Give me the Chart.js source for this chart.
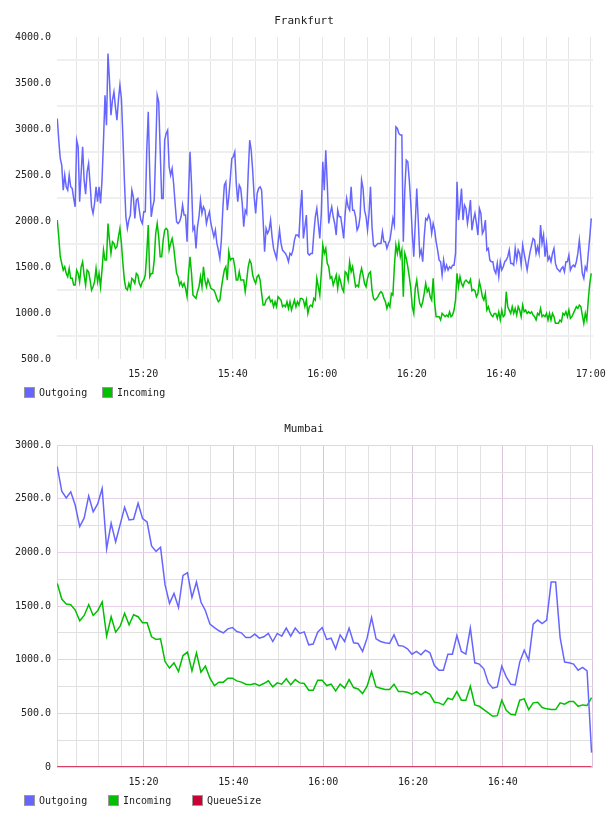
<!DOCTYPE html>
<html lang="en">
<head>
  <meta charset="UTF-8" />
  <title>Frankfurt / Mumbai traffic</title>
  <script src="https://cdn.jsdelivr.net/npm/chart.js"></script>
  <style>
    * { margin: 0; padding: 0; box-sizing: border-box; }
    body {
      width: 608px;
      height: 816px;
      overflow: hidden;
      background: #fff;
      font-family: 'DejaVu Sans Mono', monospace;
    }
    .panel { position: relative; width: 608px; height: 408px; }
    .legend {
      position: absolute;
      left: 24px;
      top: 387px;
      display: flex;
      font-size: 10px;
      line-height: 11px;
      color: #222;
    }
    .legend .item { display: flex; align-items: center; }
    .legend i {
      display: inline-block;
      width: 11px;
      height: 11px;
      border: 1px solid #999;
      margin-right: 4px;
    }
  </style>
</head>
<body>
  <div class="panel">
    <canvas id="fraChart" width="608" height="408"></canvas>
    <div class="legend" id="fraLegend"></div>
  </div>
  <div class="panel">
    <canvas id="mumChart" width="608" height="408"></canvas>
    <div class="legend" id="mumLegend"></div>
  </div>

  <script>
    // x values are minutes after 15:00
    const tickMinutes = [20, 40, 60, 80, 100, 120];
    const fraTickLabels = ['15:20', '15:40', '16:00', '16:20', '16:40', '17:00'];
    const mumTickLabels = ['15:20', '15:40', '16:00', '16:20', '16:40'];

    // Frankfurt: one sample every 20 s starting 15:00:47
    const fraStart = 0.78;
    const fraStep = 1 / 3;
    const fraOut = [
      3116, 2880, 2681, 2608, 2337, 2500, 2373, 2337, 2500, 2373, 2355, 2246, 2155, 2880, 2808, 2210, 2518, 2808, 2445, 2293,
      2536, 2627, 2409, 2155, 2083, 2192, 2373, 2210, 2373, 2192, 2445, 2880, 3369, 3043, 3822, 3532, 3152, 3315, 3405, 3242,
      3097, 3315, 3478, 3333, 2916, 2445, 2047, 1920, 2011, 2065, 2337, 2264, 2029, 2228, 2246, 2119, 2011, 1974, 2101, 2101,
      2771, 3188, 2518, 2047, 2155, 2228, 2771, 3369, 3297, 2771, 2246, 2246, 2880, 2953, 2989, 2590, 2500, 2572, 2409, 2192,
      1993, 1974, 1993, 2047, 2174, 2065, 2065, 1775, 2300, 2753, 2409,
      1902, 1938, 1703, 1938, 2047, 2228, 2083, 2155, 2119, 1974, 2047, 2101, 1974, 1902, 1829, 1902, 1757, 1685, 1594, 1793,
      2137, 2391, 2427, 2119, 2264, 2463, 2681, 2699, 2753, 2409, 2210, 2391, 2355, 2192, 1938, 2119, 2083, 2518, 2880, 2771,
      2554, 2264, 2083, 2300, 2355, 2373, 2337, 2011, 1666, 1920, 1866, 1902, 2011, 1829, 1703, 1648, 1594, 1757, 1902, 1757,
      1685, 1666, 1648, 1612, 1558, 1648, 1630, 1685, 1793, 1848, 1848, 1829, 2119, 2337, 1811, 1938, 2065, 1648, 1630, 1648,
      1648, 1866, 2047, 2137, 1974, 1811, 2083, 2645, 2337,
      2771, 2409, 1974, 2083, 2155, 2047, 1974, 1848, 2119, 2047, 2047, 1938, 1811, 2083, 2246, 2155, 2119, 2373, 2119, 2119,
      2047, 1902, 1938, 2047, 2445, 2355, 2119, 2047, 1902, 2083, 2373, 1938, 1739, 1721, 1739, 1757, 1757, 1757, 1884, 1775,
      1775, 1703, 1757, 1793, 1902, 2029, 1956, 3025, 3007, 2953, 2935, 2935, 1775, 2337, 2663, 2645, 2445, 2192, 1866, 1612,
      1974, 2355, 2011, 1630, 1685, 1558, 1829, 2029, 2011, 2065, 2011, 1866, 1974, 1902, 1775, 1685, 1576, 1558, 1413, 1576,
      1467, 1521, 1467, 1503, 1485, 1521, 1521, 1648, 2427, 2011,
      2155, 2355, 2011, 2174, 2137, 1974, 2083, 2228, 1902, 2011, 2083, 1974, 1848, 2137, 2083, 1866, 1902, 2011, 1685, 1703,
      1576, 1558, 1558, 1467, 1431, 1540, 1395, 1558, 1467, 1503, 1558, 1576, 1612, 1685, 1540, 1540, 1521, 1703, 1576, 1685,
      1648, 1521, 1739, 1648, 1558, 1467, 1576, 1666, 1739, 1811, 1793, 1648, 1721, 1648, 1956, 1757, 1848, 1612, 1757, 1576,
      1612, 1558, 1648, 1703, 1540, 1485, 1467, 1449, 1485, 1503, 1449, 1558, 1558, 1630, 1467, 1503, 1521, 1503, 1558, 1648,
      1793, 1612, 1431, 1377, 1503, 1467, 1648, 1829, 2029
    ];
    const fraIn = [
      2011, 1829, 1612, 1540, 1467, 1503, 1431, 1395, 1485, 1377, 1377, 1304, 1304, 1467, 1431, 1340, 1503, 1558, 1413, 1304,
      1467, 1449, 1358, 1250, 1286, 1340, 1485, 1340, 1431, 1286, 1467, 1685, 1576, 1576, 1974, 1793, 1648, 1775, 1757, 1703,
      1721, 1829, 1920, 1757, 1540, 1358, 1268, 1250, 1322, 1268, 1377, 1358, 1322, 1431, 1413, 1322, 1286, 1340, 1358, 1413,
      1648, 1956, 1395, 1431, 1431, 1576, 1866, 1974, 1829, 1612, 1612, 1793, 1902, 1920, 1902, 1685, 1757, 1811, 1721, 1576,
      1431, 1395, 1304, 1340, 1286, 1322, 1268, 1178, 1431, 1612, 1431,
      1195, 1178, 1159, 1232, 1286, 1395, 1286, 1503, 1358, 1286, 1365, 1322, 1268, 1257, 1250, 1213, 1159, 1123, 1141, 1268,
      1377, 1467, 1503, 1358, 1666, 1576, 1594, 1594, 1503, 1358, 1358, 1449, 1358, 1358, 1358, 1232, 1358, 1503, 1576, 1540,
      1413, 1358, 1322, 1395, 1413, 1358, 1213, 1087, 1087, 1141, 1159, 1178, 1123, 1141, 1069, 1123, 1069, 1178, 1159, 1141,
      1069, 1087, 1069, 1123, 1050, 1123, 1032, 1087, 1141, 1069, 1123, 1087, 1159, 1159, 1141, 1069, 1141, 996, 1069, 1087,
      1069, 1159, 1141, 1377, 1286, 1195, 1431, 1739, 1648,
      1703, 1540, 1503, 1377, 1395, 1304, 1358, 1413, 1268, 1395, 1340, 1268, 1232, 1449, 1431, 1358, 1558, 1449, 1503, 1395,
      1286, 1304, 1286, 1413, 1485, 1413, 1322, 1286, 1377, 1431, 1449, 1250, 1159, 1141, 1159, 1178, 1213, 1232, 1213, 1159,
      1123, 1050, 1105, 1069, 1213, 1195, 1503, 1739, 1648, 1757, 1612, 1685, 1178, 1648, 1594, 1503, 1395, 1268, 1069, 996,
      1268, 1358, 1213, 1105, 1069, 1123, 1213, 1322, 1232, 1268, 1178, 1141, 1377, 1105, 960, 960, 960, 924, 996, 978,
      960, 978, 960, 1014, 960, 978, 1032, 1141, 1431, 1286,
      1395, 1322, 1286, 1340, 1358, 1340, 1322, 1365, 1243, 1257, 1243, 1178, 1213, 1340, 1268, 1178, 1141, 1213, 1032, 1069,
      1014, 978, 960, 996, 996, 942, 1014, 924, 1032, 960, 978, 1232, 1069, 1032, 996, 1069, 996, 1050, 978, 1069,
      1032, 960, 1087, 1014, 1032, 996, 1014, 996, 1014, 978, 960, 924, 996, 978, 1050, 960, 978, 960, 996, 924,
      996, 924, 996, 960, 888, 888, 888, 924, 906, 996, 978, 1014, 960, 1032, 942, 960, 996, 1032, 1069, 1050,
      1087, 1069, 978, 888, 996, 924, 1141, 1322, 1431
    ];

    // Mumbai: one sample per minute starting 15:00:47
    const mumStart = 0.78;
    const mumStep = 1;
    const mumOut = [
      2801, 2571, 2509, 2565, 2440, 2241, 2322, 2527, 2378, 2453, 2596, 2035, 2272, 2098, 2260, 2421, 2303, 2309, 2459, 2316,
      2285, 2061, 2010, 2048, 1700, 1525, 1618, 1487, 1786, 1811, 1581, 1724, 1538, 1457, 1332, 1300, 1270, 1251, 1288, 1300,
      1263, 1251, 1207, 1207, 1239, 1201, 1214, 1245, 1170, 1245, 1220, 1295, 1220, 1295, 1245, 1260, 1139, 1146, 1257, 1300,
      1189, 1201, 1102, 1232, 1170, 1295, 1158, 1151, 1077, 1201, 1394, 1195, 1170, 1158, 1151, 1232, 1133, 1127, 1102, 1052,
      1077, 1046, 1089, 1064, 946, 903, 903, 1052, 1052, 1226, 1077, 1052, 1295, 971, 959, 915, 784, 735, 747, 940,
      840, 772, 766, 978, 1089, 996, 1332, 1370, 1338, 1370, 1724, 1724, 1207, 978, 971, 959, 903, 928, 896, 134
    ];
    const mumIn = [
      1712, 1566, 1519, 1513, 1463, 1363, 1413, 1513, 1413, 1457, 1538, 1220, 1401, 1257, 1313, 1432, 1326, 1419, 1401, 1345,
      1345, 1214, 1189, 1195, 983, 922, 971, 890, 1039, 1071, 896, 1064, 884, 940, 828, 759, 791, 791, 828, 828,
      803, 791, 772, 766, 778, 759, 778, 803, 747, 784, 772, 822, 766, 815, 784, 778, 716, 716, 809, 809,
      759, 772, 710, 772, 735, 815, 741, 728, 684, 753, 890, 747, 735, 722, 722, 772, 703, 703, 697, 678,
      703, 672, 703, 678, 604, 598, 579, 641, 628, 703, 623, 623, 753, 579, 566, 535, 504, 473, 479, 623,
      529, 492, 486, 623, 635, 535, 598, 604, 554, 542, 535, 535, 598, 585, 610, 610, 566, 579, 573, 647
    ];
    const mumQueue = [
      0, 0, 0, 0, 0, 0, 0, 0, 0, 0, 0, 0, 0, 0, 0, 0, 0, 0, 0, 0,
      0, 0, 0, 0, 0, 0, 0, 0, 0, 0, 0, 0, 0, 0, 0, 0, 0, 0, 0, 0,
      0, 0, 0, 0, 0, 0, 0, 0, 0, 0, 0, 0, 0, 0, 0, 0, 0, 0, 0, 0,
      0, 0, 0, 0, 0, 0, 0, 0, 0, 0, 0, 0, 0, 0, 0, 0, 0, 0, 0, 0,
      0, 0, 0, 0, 0, 0, 0, 0, 0, 0, 0, 0, 0, 0, 0, 0, 0, 0, 0, 0,
      0, 0, 0, 0, 0, 0, 0, 0, 0, 0, 0, 0, 0, 0, 0, 0, 0, 0, 0, 0
    ];

    const BLUE = '#6666ff';
    const GREEN = '#00c000';
    const RED = '#cc0033';

    Chart.defaults.font.family = "'DejaVu Sans Mono', monospace";
    Chart.defaults.font.size = 10;
    Chart.defaults.color = '#222';

    function toPoints(values, start, step) {
      return values.map((v, i) => ({ x: start + i * step, y: v }));
    }

    function fmtY(v) {
      return v === 0 ? '0' : v.toFixed(1);
    }

    function buildLegend(id, series, itemWidth) {
      const box = document.getElementById(id);
      series.forEach(s => {
        const item = document.createElement('span');
        item.className = 'item';
        item.style.width = itemWidth + 'px';
        item.innerHTML = '<i style="background:' + s.color + '"></i>' + s.name;
        box.appendChild(item);
      });
    }

    function buildChart(id, title, series, xMax, yMin, yMax, tickLabels, look) {
      new Chart(document.getElementById(id), {
        type: 'line',
        data: {
          datasets: series.map(s => ({
            label: s.name,
            data: toPoints(s.values, s.start, s.step),
            borderColor: s.color,
            borderWidth: 1.5,
            pointRadius: 0,
            tension: 0,
            fill: false
          }))
        },
        options: {
          responsive: false,
          animation: false,
          layout: { padding: { left: 0, right: 0, top: 0, bottom: 19 } },
          plugins: {
            legend: { display: false },
            tooltip: { enabled: false },
            title: {
              display: true,
              text: title,
              color: '#222',
              font: { size: 11, weight: 'normal' },
              padding: { top: 15, bottom: 9 }
            }
          },
          scales: {
            x: {
              type: 'linear',
              min: 0.72,
              max: xMax,
              afterBuildTicks: scale => {
                const ticks = [];
                for (let m = 5; m <= 120; m += 5) ticks.push({ value: m });
                scale.ticks = ticks;
              },
              afterFit: scale => {
                scale.paddingLeft = 0;
                scale.paddingRight = 15;
              },
              ticks: {
                autoSkip: false,
                maxRotation: 0,
                padding: 9,
                callback: v => {
                  const k = tickMinutes.indexOf(v);
                  return k >= 0 && k < tickLabels.length ? tickLabels[k] : '';
                }
              },
              grid: {
                drawTicks: false,
                lineWidth: 1,
                color: ctx => look.vColor(ctx.tick.value)
              },
              border: { display: false }
            },
            y: {
              min: yMin,
              max: yMax,
              afterFit: scale => { scale.width = 57; },
              ticks: {
                stepSize: 250,
                autoSkip: false,
                padding: 6,
                callback: v => (v % 500 === 0 ? fmtY(v) : '')
              },
              grid: {
                drawTicks: false,
                lineWidth: look.hWidth,
                color: ctx => look.hColor(ctx.tick.value)
              },
              border: look.yBorder
            }
          }
        }
      });
    }

    // Frankfurt
    const fraSeries = [
      { name: 'Outgoing', color: BLUE, values: fraOut, start: fraStart, step: fraStep },
      { name: 'Incoming', color: GREEN, values: fraIn, start: fraStart, step: fraStep }
    ];
    buildChart('fraChart', 'Frankfurt', fraSeries, 120.5, 500, 4000, fraTickLabels, {
      vColor: () => '#e6e6e6',
      hColor: v => (v % 500 === 0 ? 'rgba(0,0,0,0)' : '#efefef'),
      hWidth: 2,
      yBorder: { display: false }
    });
    buildLegend('fraLegend', fraSeries, 78);

    // Mumbai
    const mumSeries = [
      { name: 'Outgoing', color: BLUE, values: mumOut, start: mumStart, step: mumStep },
      { name: 'Incoming', color: GREEN, values: mumIn, start: mumStart, step: mumStep },
      { name: 'QueueSize', color: RED, values: mumQueue, start: mumStart, step: mumStep }
    ];
    buildChart('mumChart', 'Mumbai', mumSeries, 120.1, 0, 3000, mumTickLabels, {
      vColor: v => (v % 20 === 0 ? '#dcc4dc' : '#e2e2e2'),
      hColor: v => (v % 500 === 0 ? '#e8d0e8' : '#e0e0e0'),
      hWidth: 1,
      yBorder: { display: true, color: '#e8d0e8', width: 1 }
    });
    buildLegend('mumLegend', mumSeries, 84);
  </script>
</body>
</html>
